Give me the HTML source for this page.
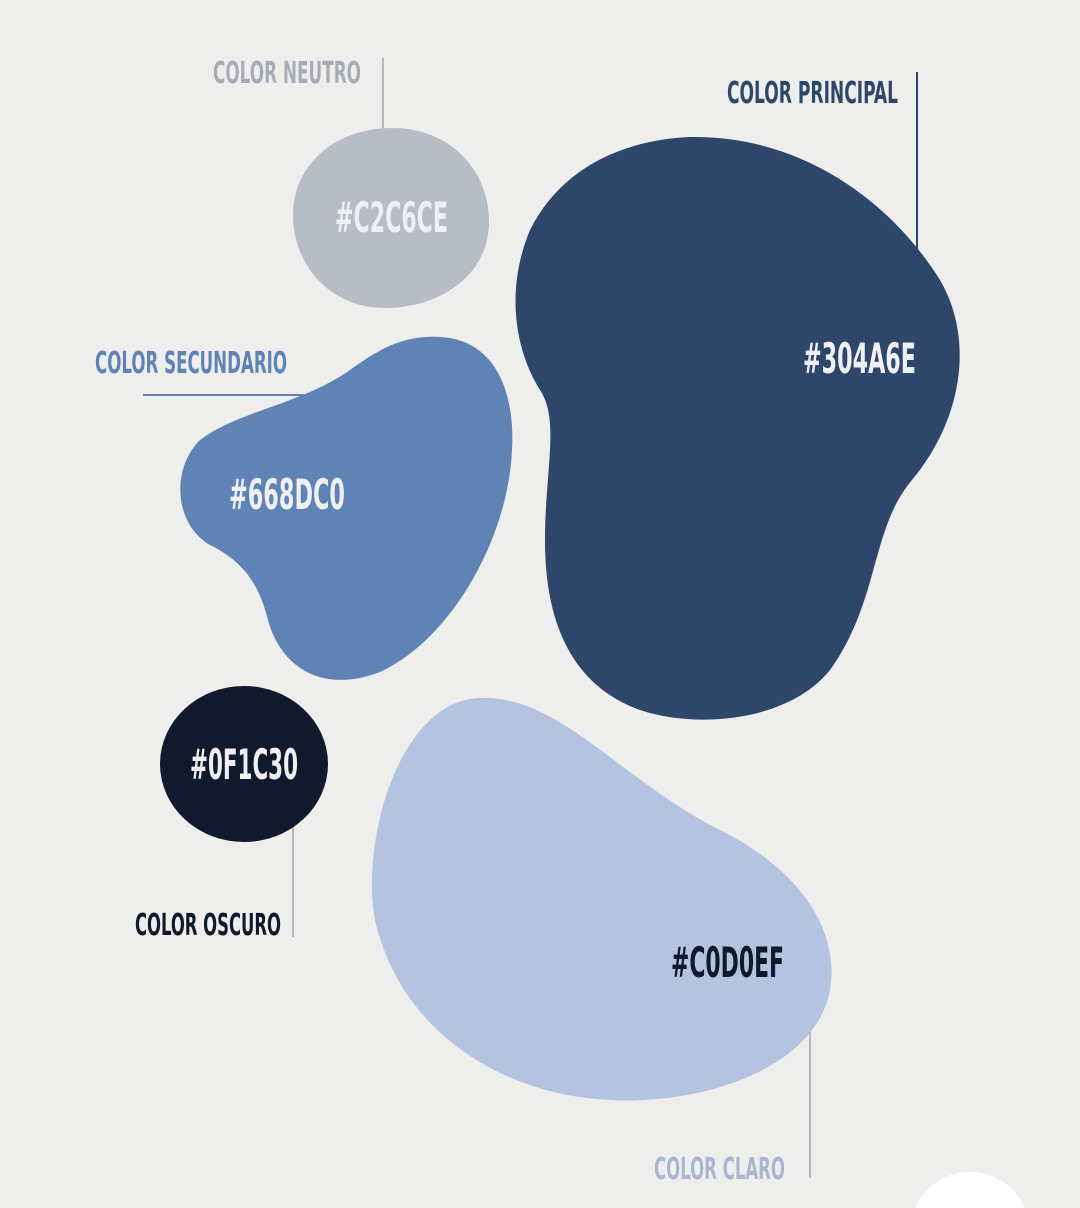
<!DOCTYPE html>
<html><head><meta charset="utf-8"><style>
html,body{margin:0;padding:0;background:#eeeeed;width:1080px;height:1208px;overflow:hidden;}
svg{display:block;}
text{font-family:"Liberation Sans Narrow","DejaVu Sans Condensed","Liberation Sans",sans-serif;font-weight:bold;}
</style></head><body>
<svg width="1080" height="1208" viewBox="0 0 1080 1208">
<rect width="1080" height="1208" fill="#eeeeed"/>
<line x1="383" y1="58" x2="383" y2="128" stroke="#b5b8be" stroke-width="2"/>
<line x1="917" y1="72" x2="917" y2="258" stroke="#2e4669" stroke-width="2"/>
<line x1="143" y1="395" x2="312" y2="395" stroke="#6083b5" stroke-width="2"/>
<line x1="293" y1="826" x2="293" y2="937" stroke="#b5b8be" stroke-width="2"/>
<line x1="810" y1="1020" x2="810" y2="1178" stroke="#b5b8be" stroke-width="2"/>
<path d="M 392 128 C 450 128 489 170 489 222 C 489 275 440 308 385 308 C 330 308 293 265 293 215 C 293 165 335 128 392 128 Z" fill="#b8bcc5"/>
<path d="M 690 137 C 800 135 890 200 940 280 C 975 340 962 420 912 480 C 870 530 880 600 830 670 C 790 720 700 730 640 710 C 570 685 545 620 545 540 C 545 470 560 420 540 390 C 515 350 505 290 530 230 C 560 170 620 140 690 137 Z" fill="#2e4669"/>
<path d="M 440 337 C 500 340 515 400 512 450 C 508 540 450 640 380 672 C 320 695 280 665 268 620 C 258 580 240 560 210 545 C 175 525 170 470 200 440 C 240 410 300 405 350 370 C 380 348 405 335 440 337 Z" fill="#6083b5"/>
<ellipse cx="244" cy="764" rx="84" ry="78" fill="#111a2c"/>
<path d="M 480 698 C 560 695 620 780 720 830 C 800 870 840 930 830 990 C 815 1070 700 1105 610 1100 C 500 1095 400 1030 375 920 C 360 840 400 700 480 698 Z" fill="#b4c3e0"/>
<path d="M 915 1208 A 60 60 0 0 1 1025 1208 Z" fill="#ffffff"/>
<text x="213" y="83" font-size="30" fill="#a9acb3" textLength="148" lengthAdjust="spacingAndGlyphs">COLOR NEUTRO</text>
<text x="727" y="103" font-size="30" fill="#2e4669" textLength="171" lengthAdjust="spacingAndGlyphs">COLOR PRINCIPAL</text>
<text x="95" y="373" font-size="30" fill="#6083b5" textLength="192" lengthAdjust="spacingAndGlyphs">COLOR SECUNDARIO</text>
<text x="135" y="935" font-size="30" fill="#111a2c" textLength="146" lengthAdjust="spacingAndGlyphs">COLOR OSCURO</text>
<text x="654" y="1179" font-size="30" fill="#a9b6cf" textLength="131" lengthAdjust="spacingAndGlyphs">COLOR CLARO</text>
<text x="335" y="232" font-size="42" fill="#eef0f3" textLength="113" lengthAdjust="spacingAndGlyphs">#C2C6CE</text>
<text x="803" y="373" font-size="42" fill="#eef0f3" textLength="113" lengthAdjust="spacingAndGlyphs">#304A6E</text>
<text x="229" y="509" font-size="42" fill="#eef0f3" textLength="116" lengthAdjust="spacingAndGlyphs">#668DC0</text>
<text x="190" y="779" font-size="42" fill="#eef0f3" textLength="108" lengthAdjust="spacingAndGlyphs">#0F1C30</text>
<text x="671" y="977" font-size="42" fill="#111a2c" textLength="113" lengthAdjust="spacingAndGlyphs">#C0D0EF</text>
</svg>
</body></html>
